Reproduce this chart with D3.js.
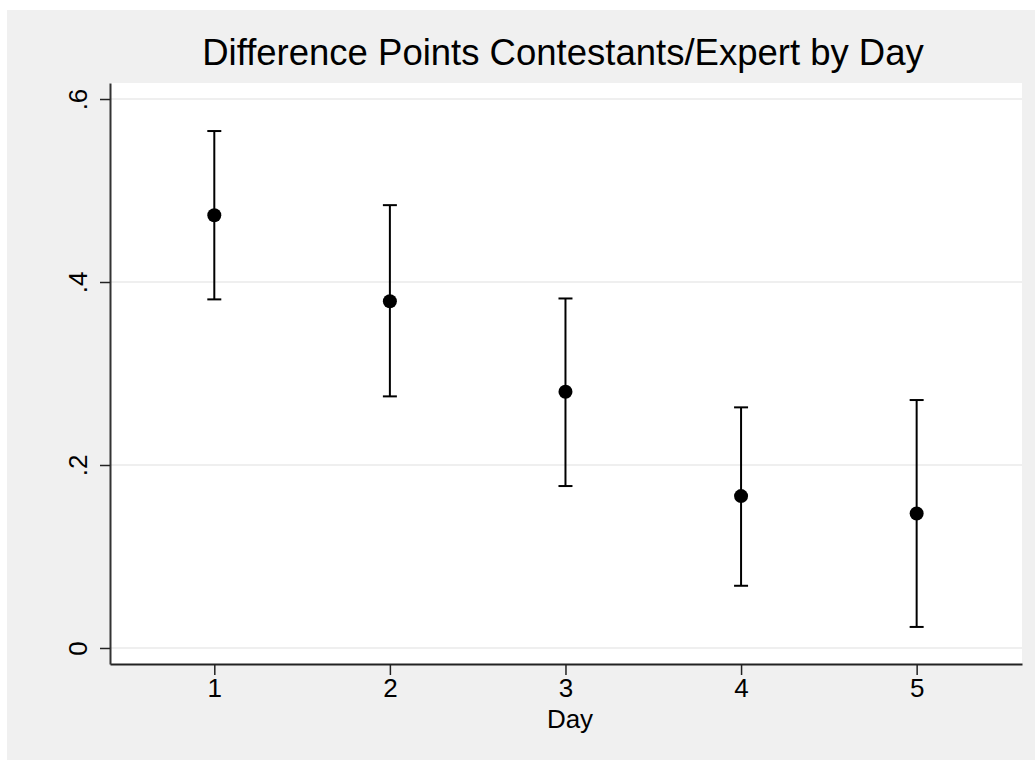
<!DOCTYPE html>
<html>
<head>
<meta charset="utf-8">
<script src="https://cdn.jsdelivr.net/npm/d3@7"></script>
<style>
  body { margin: 0; background: #ffffff; }
  text { font-family: "Liberation Sans", Arial, sans-serif; fill: #000; }
</style>
</head>
<body>
<div id="chart"></div>
<script>
// data
const days = [1, 2, 3, 4, 5]
const means = [0.473, 0.379, 0.280, 0.166, 0.147]
const lower = [0.381, 0.275, 0.177, 0.068, 0.023]
const upper = [0.565, 0.484, 0.382, 0.263, 0.271]
const yTicks = [0, 0.2, 0.4, 0.6]
const yTickLabels = ["0", ".2", ".4", ".6"]

const dataset = days.map((d, i) => ({day: d, mean: means[i], lo: lower[i], hi: upper[i]}))

// dimensions
const width = 1035
const height = 760
const margin = {top: 83, right: 13, bottom: 96, left: 110}
const innerW = width - margin.left - margin.right
const innerH = height - margin.top - margin.bottom

const svg = d3.select("#chart")
  .append("svg")
  .attr("width", width)
  .attr("height", height)

// outer gray background
svg.append("rect")
  .attr("x", 7)
  .attr("y", 10)
  .attr("width", width - 7)
  .attr("height", height - 10)
  .attr("fill", "#f0f0f0")

const g = svg.append("g")
  .attr("transform", `translate(${margin.left}, ${margin.top})`)

// plot area
g.append("rect")
  .attr("width", innerW)
  .attr("height", innerH)
  .attr("fill", "#ffffff")

// scales
const xScale = d3.scaleLinear()
  .domain([0.406, 5.6])
  .range([0, innerW])

const yScale = d3.scaleLinear()
  .domain([-0.0175, 0.6175])
  .range([innerH, 0])

// gridlines
g.append("g")
  .selectAll("line")
  .data(yTicks)
  .join("line")
  .attr("x1", 0)
  .attr("x2", innerW)
  .attr("y1", d => yScale(d))
  .attr("y2", d => yScale(d))
  .attr("stroke", "#eaeaea")
  .attr("stroke-width", 1.6)

// axes
const xAxis = d3.axisBottom(xScale)
  .tickValues(days)
  .tickFormat(d3.format("d"))
  .tickSize(11)
  .tickSizeOuter(0)
  .tickPadding(4)

const yAxis = d3.axisLeft(yScale)
  .tickValues(yTicks)
  .tickFormat((d, i) => yTickLabels[i])
  .tickSize(10)
  .tickSizeOuter(0)

const xg = g.append("g")
  .attr("transform", `translate(0, ${innerH})`)
  .call(xAxis)

const yg = g.append("g")
  .call(yAxis)

xg.select(".domain").attr("stroke", "#222").attr("stroke-width", 2)
yg.select(".domain").attr("stroke", "#333").attr("stroke-width", 2)
xg.selectAll(".tick line").attr("stroke", "#222").attr("stroke-width", 1.5)
yg.selectAll(".tick line").attr("stroke", "#222").attr("stroke-width", 1.5)

xg.selectAll(".tick text")
  .attr("font-family", "Liberation Sans, Arial, sans-serif")
  .attr("font-size", 26)
  .attr("fill", "#000")

yg.selectAll(".tick text")
  .attr("font-family", "Liberation Sans, Arial, sans-serif")
  .attr("font-size", 26)
  .attr("fill", "#000")
  .attr("x", 0)
  .attr("dy", 0)
  .attr("text-anchor", "middle")
  .attr("transform", "translate(-23, 0) rotate(-90)")

// error bars
const capW = 7
const bars = g.append("g")
  .selectAll("g")
  .data(dataset)
  .join("g")

bars.append("line")
  .attr("x1", d => xScale(d.day))
  .attr("x2", d => xScale(d.day))
  .attr("y1", d => yScale(d.lo))
  .attr("y2", d => yScale(d.hi))
  .attr("stroke", "#000")
  .attr("stroke-width", 2)

bars.append("line")
  .attr("x1", d => xScale(d.day) - capW)
  .attr("x2", d => xScale(d.day) + capW)
  .attr("y1", d => yScale(d.hi))
  .attr("y2", d => yScale(d.hi))
  .attr("stroke", "#000")
  .attr("stroke-width", 2)

bars.append("line")
  .attr("x1", d => xScale(d.day) - capW)
  .attr("x2", d => xScale(d.day) + capW)
  .attr("y1", d => yScale(d.lo))
  .attr("y2", d => yScale(d.lo))
  .attr("stroke", "#000")
  .attr("stroke-width", 2)

// points
g.append("g")
  .selectAll("circle")
  .data(dataset)
  .join("circle")
  .attr("cx", d => xScale(d.day))
  .attr("cy", d => yScale(d.mean))
  .attr("r", 7)
  .attr("fill", "#000")

// title
svg.append("text")
  .attr("x", 563)
  .attr("y", 65)
  .attr("text-anchor", "middle")
  .attr("font-size", 36.5)
  .text("Difference Points Contestants/Expert by Day")

// x axis label
svg.append("text")
  .attr("x", margin.left + innerW / 2 + 4)
  .attr("y", 728)
  .attr("text-anchor", "middle")
  .attr("font-size", 26)
  .text("Day")
</script>
</body>
</html>
